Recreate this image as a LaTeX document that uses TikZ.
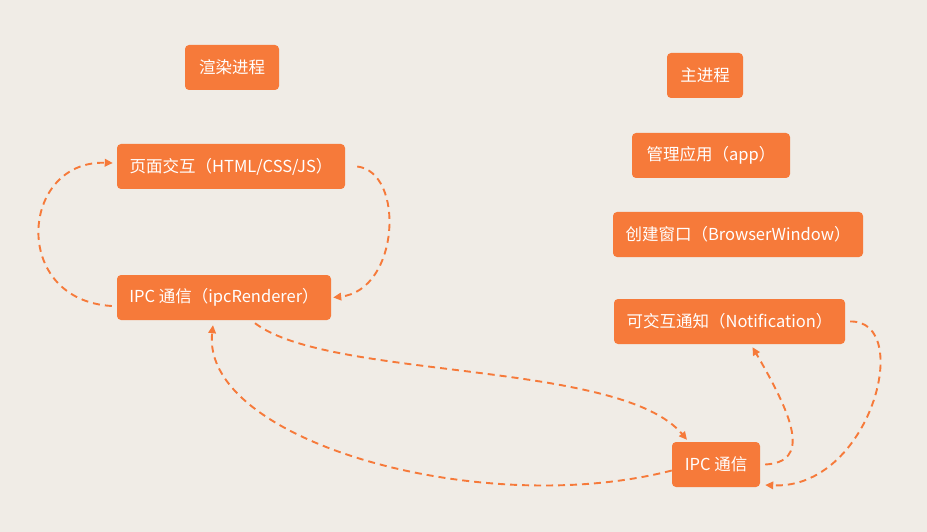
\documentclass[tikz,border=0pt]{standalone}
\usepackage{fontspec}
\setmainfont{Noto Sans CJK SC}
\usetikzlibrary{arrows.meta}
\definecolor{bgc}{HTML}{F0ECE6}
\definecolor{orc}{HTML}{F67A3A}
\tikzset{
  box/.style={fill=orc, rounded corners=4pt, text=white, font=\fontsize{16.5}{19}\selectfont, inner sep=0pt, minimum height=45pt, align=center},
  flow/.style={draw=orc, line width=1.9pt, dash pattern=on 7pt off 5pt, -{Triangle[length=8pt,width=7.5pt]}}
}
\begin{document}
\begin{tikzpicture}[x=1pt,y=-1pt]
\fill[bgc] (0,0) rectangle (927,532);
\useasboundingbox (0,0) rectangle (927,532);
\node[box, minimum width=94pt] (render) at (232,67.5) {渲染进程};
\node[box, minimum width=76pt] (main) at (705,75.5) {主进程};
\node[box, minimum width=228pt] (page) at (231,166.5) {页面交互（HTML/CSS/JS）};
\node[box, minimum width=214pt] (ipcr) at (224,297.5) {IPC 通信（ipcRenderer）};
\node[box, minimum width=158pt] (app) at (711,155.5) {管理应用（app）};
\node[box, minimum width=250pt] (win) at (738,234.5) {创建窗口（BrowserWindow）};
\node[box, minimum width=231pt] (notif) at (729.5,321.5) {可交互通知（Notification）};
\node[box, minimum width=88pt] (ipcm) at (716,464.5) {IPC 通信};
\coordinate (a1) at ([xshift=12pt]page.east);
\coordinate (a2) at ([xshift=2pt]ipcr.east);
\draw[flow] (a1) .. controls (405,172) and (400,290) .. (a2);
\coordinate (b1) at ([xshift=-5pt,yshift=-8.5pt]ipcr.west);
\coordinate (b2) at ([xshift=-4pt,yshift=3.5pt]page.west);
\draw[flow] (b1) .. controls (10,300) and (20,160) .. (b2);
\coordinate (c1) at ([xshift=31pt,yshift=-3pt]ipcr.south);
\coordinate (c2) at ([xshift=-29pt,yshift=2pt]ipcm.north);
\draw[flow] (c1) .. controls (330,380) and (620,360) .. (c2);
\coordinate (d1) at ([yshift=-6pt]ipcm.west);
\coordinate (d2) at ([xshift=-11pt,yshift=-5pt]ipcr.south);
\draw[flow] (d1) .. controls (480,520) and (200,440) .. (d2);
\coordinate (e1) at ([xshift=5pt]ipcm.east);
\coordinate (e2) at ([xshift=23pt,yshift=-3pt]notif.south);
\draw[flow] (e1) .. controls (810,462) and (795,420) .. (e2);
\coordinate (f1) at ([xshift=5pt]notif.east);
\coordinate (f2) at ([xshift=5pt,yshift=-20.5pt]ipcm.east);
\draw[flow] (f1) .. controls (915,320) and (870,490) .. (f2);
\end{tikzpicture}
\end{document}
